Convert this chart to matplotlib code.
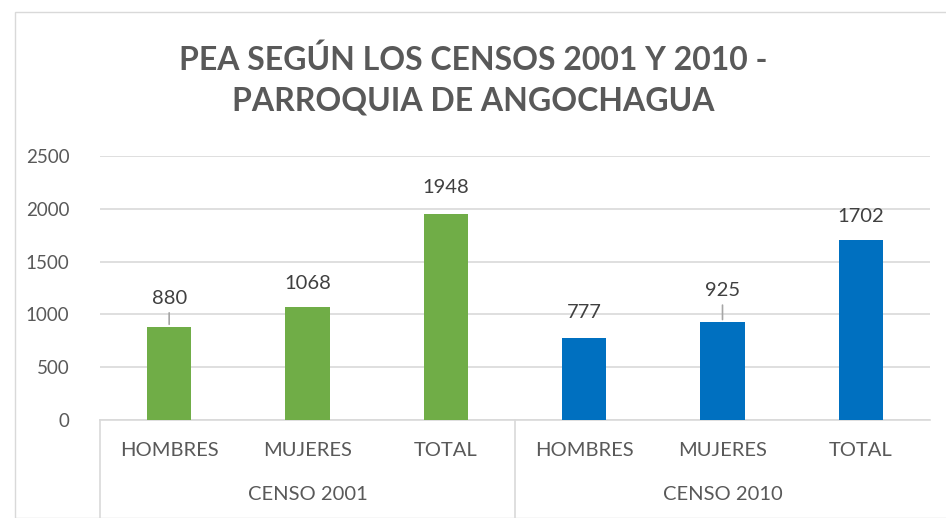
import matplotlib.pyplot as plt
from matplotlib.lines import Line2D
from matplotlib.patches import Rectangle

# Data
categories = ["HOMBRES", "MUJERES", "TOTAL", "HOMBRES", "MUJERES", "TOTAL"]
groups = ["CENSO 2001", "CENSO 2010"]
values = [880, 1068, 1948, 777, 925, 1702]
bar_colors = ["#70AD47"] * 3 + ["#0070C0"] * 3

# label offsets (pixels above bar top) and leader lines
label_offsets = [20, 15, 18, 17, 23, 15]
leaders = [True, False, False, False, True, False]

plt.rcParams['font.family'] = ['Lato', 'DejaVu Sans']
text_color = "#595959"

fig = plt.figure(figsize=(9.46, 5.18), dpi=100)
fig.patches.append(Rectangle((15 / 946, 0), 1, 1 - 12 / 518, transform=fig.transFigure,
                             fill=False, edgecolor="#D9D9D9", linewidth=1))

ax = fig.add_axes([100 / 946, 98 / 518, 830 / 946, 264 / 518])
x = list(range(len(values)))
ax.bar(x, values, width=0.32, color=bar_colors, zorder=3)
ax.set_xlim(-0.5, len(values) - 0.5)
ax.set_ylim(0, 2500)
ax.set_yticks(range(0, 2501, 500))
ax.grid(axis="y", color="#D9D9D9", linewidth=1.2, zorder=0)
ax.tick_params(axis="y", length=0, labelsize=13.5, labelcolor=text_color, pad=22)
ax.set_xticks([])
for s in ["top", "right", "left"]:
    ax.spines[s].set_visible(False)
ax.spines["bottom"].set_color("#D9D9D9")
ax.spines["bottom"].set_linewidth(1.2)

for i, v in enumerate(values):
    ax.annotate(str(v), (i, v), xytext=(0, label_offsets[i]), textcoords="offset pixels",
                ha="center", va="bottom", fontsize=14.5, color="#404040")
    if leaders[i]:
        ax.annotate("", (i, v), xytext=(0, label_offsets[i] - 3), textcoords="offset pixels",
                    arrowprops=dict(arrowstyle="-", color="#A6A6A6", lw=1.2))

# category labels
for i, c in enumerate(categories):
    fig.text((100 + (i + 0.5) * 830 / 6) / 946, 1 - 451 / 518, c, ha="center", va="center",
             fontsize=14.5, color=text_color)
for g, name in enumerate(groups):
    fig.text((100 + (g + 0.5) * 415) / 946, 1 - 494 / 518, name, ha="center", va="center",
             fontsize=14.5, color=text_color)
for xp in [100, 515]:
    fig.add_artist(Line2D([xp / 946, xp / 946], [0, 98 / 518], color="#D9D9D9", lw=1.2))

fig.text(0.5, 1 - 60 / 518, "PEA SEGÚN LOS CENSOS 2001 Y 2010 -", ha="center", va="center",
         fontsize=23, fontweight="bold", color=text_color)
fig.text(0.5, 1 - 101 / 518, "PARROQUIA DE ANGOCHAGUA", ha="center", va="center",
         fontsize=23, fontweight="bold", color=text_color)

fig.savefig("out.png", dpi=100)
